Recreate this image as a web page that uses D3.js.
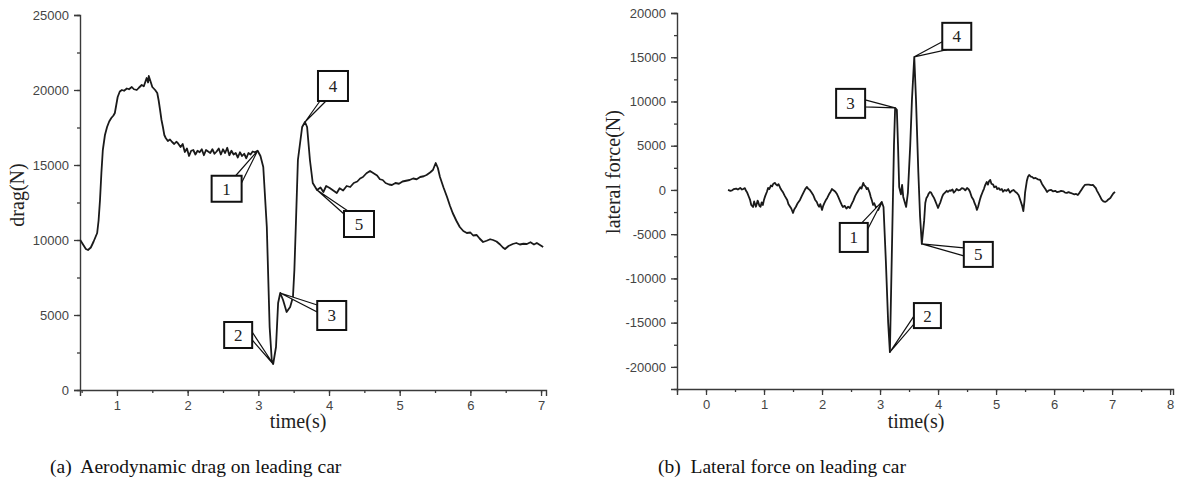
<!DOCTYPE html>
<html>
<head>
<meta charset="utf-8">
<script src="https://cdn.jsdelivr.net/npm/d3@7"></script>
<style>
  body { margin: 0; background: #fff; }
  svg { display: block; }
</style>
</head>
<body>
<div id="graph"></div>
<script>
// drag on leading car
var dragT = [0.48, 0.52, 0.56, 0.59, 0.63, 0.67, 0.72, 0.74, 0.76, 0.78, 0.80, 0.83, 0.86, 0.89, 0.92, 0.95, 0.97, 0.99,
  1.01, 1.04, 1.07, 1.10, 1.14, 1.17, 1.21, 1.24, 1.28, 1.31, 1.35, 1.38, 1.42, 1.44, 1.45, 1.48, 1.50, 1.54, 1.57, 1.59,
  1.61, 1.63, 1.65, 1.67, 1.69, 1.72, 1.75, 1.78, 1.81, 1.84, 1.86, 1.90, 1.93, 1.96, 1.99, 2.02, 2.05, 2.08, 2.11, 2.14,
  2.17, 2.20, 2.23, 2.26, 2.29, 2.32, 2.35, 2.38, 2.41, 2.44, 2.47, 2.50, 2.53, 2.56, 2.59, 2.62, 2.65, 2.68, 2.71, 2.74,
  2.77, 2.80, 2.83, 2.86, 2.89, 2.92, 2.95, 2.99, 3.03, 3.07, 3.12, 3.16, 3.19, 3.21, 3.25, 3.28, 3.31, 3.35, 3.40, 3.45,
  3.49, 3.51, 3.53, 3.56, 3.62, 3.66, 3.69, 3.73, 3.77, 3.83, 3.88, 3.92, 3.96, 4.01, 4.06, 4.11, 4.15, 4.20, 4.25, 4.30,
  4.35, 4.40, 4.44, 4.48, 4.53, 4.58, 4.63, 4.68, 4.72, 4.76, 4.80, 4.85, 4.89, 4.94, 4.99, 5.04, 5.09, 5.14, 5.19, 5.24,
  5.29, 5.34, 5.38, 5.43, 5.47, 5.51, 5.54, 5.57, 5.62, 5.67, 5.71, 5.75, 5.80, 5.85, 5.90, 5.95, 6.00, 6.04, 6.09, 6.13,
  6.18, 6.23, 6.28, 6.32, 6.37, 6.42, 6.46, 6.49, 6.54, 6.60, 6.65, 6.70, 6.75, 6.80, 6.85, 6.90, 6.94, 6.99, 7.03];
var dragN = [10000, 9700, 9400, 9333, 9500, 9900, 10467, 11300, 12667, 14500, 16000, 17000, 17533, 17900, 18133, 18300, 18467, 19000,
  19533, 19900, 20000, 19950, 20100, 20050, 20200, 20050, 20000, 20150, 20333, 20250, 20800, 20500, 20933, 20500, 20200, 20000, 19800, 19300,
  18667, 18000, 17533, 17000, 16800, 16600, 16700, 16533, 16400, 16550, 16467, 16200, 16400, 15867, 16100, 15600, 15950, 16000, 15700, 15950,
  15850, 16050, 15650, 16000, 15900, 15800, 16050, 15750, 15900, 16100, 15700, 16050, 15800, 16150, 15650, 15950, 15700, 15800, 15500, 15850,
  15600, 15750, 15450, 15800, 15700, 15900, 15850, 15950, 15600, 14867, 10867, 4200, 2000, 1733, 2867, 5800, 6467, 6000, 5200, 5533,
  6200, 8000, 10867, 15333, 17533, 17867, 17533, 15333, 13800, 13333, 13500, 13200, 13600, 13467, 13300, 13133, 13450, 13300, 13600, 13533,
  13800, 13900, 14100, 14200, 14450, 14600, 14450, 14300, 14050, 14000, 13800, 13700, 13667, 13800, 13750, 13900, 13950, 14000, 14100, 14050,
  14200, 14250, 14333, 14500, 14667, 15133, 14800, 14200, 13500, 12867, 12300, 11800, 11300, 10867, 10600, 10467, 10500, 10300, 10333, 10100,
  9867, 9950, 10050, 10000, 9900, 9700, 9500, 9400, 9600, 9733, 9800, 9700, 9750, 9733, 9850, 9700, 9800, 9650, 9533];

// lateral force on leading car
var latT = [0.38, 0.42, 0.45, 0.48, 0.52, 0.55, 0.59, 0.62, 0.64, 0.67, 0.69, 0.71, 0.74, 0.76, 0.78, 0.81, 0.83, 0.84,
  0.86, 0.87, 0.89, 0.90, 0.92, 0.94, 0.96, 0.98, 1.00, 1.02, 1.05, 1.07, 1.09, 1.12, 1.14, 1.16, 1.19, 1.21, 1.23, 1.25,
  1.28, 1.30, 1.33, 1.36, 1.40, 1.42, 1.45, 1.47, 1.50, 1.52, 1.55, 1.58, 1.62, 1.65, 1.68, 1.71, 1.74, 1.76, 1.79, 1.82,
  1.85, 1.88, 1.91, 1.93, 1.95, 1.97, 2.00, 2.02, 2.04, 2.07, 2.09, 2.12, 2.14, 2.17, 2.19, 2.21, 2.23, 2.26, 2.28, 2.30,
  2.32, 2.34, 2.36, 2.39, 2.42, 2.45, 2.48, 2.51, 2.54, 2.57, 2.60, 2.63, 2.66, 2.68, 2.71, 2.73, 2.75, 2.77, 2.79, 2.82,
  2.84, 2.86, 2.88, 2.90, 2.93, 2.95, 2.97, 3.00, 3.03, 3.06, 3.10, 3.14, 3.17, 3.21, 3.24, 3.26, 3.29, 3.31, 3.33, 3.36,
  3.38, 3.40, 3.45, 3.48, 3.52, 3.55, 3.59, 3.62, 3.66, 3.69, 3.72, 3.74, 3.76, 3.78, 3.80, 3.82, 3.84, 3.86, 3.88, 3.90,
  3.93, 3.95, 3.98, 4.00, 4.02, 4.04, 4.07, 4.09, 4.12, 4.15, 4.17, 4.20, 4.22, 4.25, 4.27, 4.30, 4.32, 4.35, 4.38, 4.41,
  4.44, 4.47, 4.50, 4.53, 4.55, 4.58, 4.61, 4.63, 4.65, 4.67, 4.69, 4.72, 4.74, 4.77, 4.79, 4.81, 4.84, 4.86, 4.88, 4.90,
  4.92, 4.95, 4.97, 5.00, 5.02, 5.05, 5.07, 5.10, 5.12, 5.15, 5.18, 5.21, 5.24, 5.27, 5.30, 5.33, 5.36, 5.39, 5.42, 5.45,
  5.47, 5.49, 5.50, 5.53, 5.55, 5.57, 5.60, 5.62, 5.65, 5.68, 5.72, 5.76, 5.79, 5.82, 5.85, 5.88, 5.91, 5.95, 5.98, 6.02,
  6.05, 6.09, 6.12, 6.16, 6.19, 6.22, 6.25, 6.28, 6.31, 6.35, 6.38, 6.41, 6.44, 6.47, 6.50, 6.53, 6.57, 6.60, 6.64, 6.67,
  6.70, 6.72, 6.74, 6.76, 6.79, 6.82, 6.85, 6.88, 6.91, 6.93, 6.97, 7.00, 7.02, 7.05];
var latN = [0, -100, -50, 100, 150, 50, 226, 50, 100, 200, -100, -300, -800, -1131, -1700, -1923, -1300, -1500,
  -1900, -1700, -1200, -1357, -1800, -1900, -1400, -1697, -1100, -700, -200, 226, 100, 500, 400, 700, 792, 600, 500, 650,
  226, 0, -300, -700, -1131, -1600, -1900, -2100, -2602, -2200, -1900, -1500, -1131, -700, -300, 100, 339, 150, 0, -300,
  -600, -1100, -1357, -1700, -1900, -1600, -2262, -1800, -1500, -1100, -905, -500, -300, 100, 0, -100, -200, -500, -792, -1100,
  -1400, -1700, -1923, -1800, -2100, -1900, -2036, -1600, -1200, -700, -339, 0, 300, 150, 792, 500, 400, 100, 226, -300,
  -800, -1200, -1697, -1500, -2000, -1900, -2262, -1800, -1357, -1923, -8000, -15000, -18326, -5000, 5000, 9276, 9050, 5000, 339, -500,
  566, -792, -1923, -339, 5000, 10181, 15045, 10181, 2000, -3000, -6100, -4800, -3500, -1470, -900, -700, -400, -226, -300, -566,
  -900, -1200, -1700, -2036, -1700, -1400, -792, -500, -300, -100, -226, -50, -100, 50, -300, -100, 100, -50, 0, 200,
  150, -50, 226, 50, -200, -792, -1100, -1500, -1800, -2262, -1900, -1131, -700, -200, 100, 500, 905, 600, 1000, 1131,
  700, 600, 300, 400, 100, 200, 0, 100, -200, 0, -100, 100, -300, -100, 0, -200, -339, -600, -1200, -1800,
  -2400, -1200, -300, 1000, 1500, 1697, 1500, 1470, 1300, 1357, 1200, 1131, 700, 400, 100, -226, -50, 0, -150, -100,
  -250, -200, -100, -150, -300, -339, -250, -339, -400, -500, -450, -566, -300, 0, 300, 566, 600, 600, 550, 566,
  350, 200, -100, -339, -700, -1100, -1300, -1357, -1250, -1100, -905, -600, -400, -226];

// callouts: label, target time, target value
var dragMarks = ["1", "2", "3", "4", "5"];
var dragMarkT = [2.99, 3.21, 3.31, 3.66, 3.83];
var dragMarkN = [15950, 1733, 6467, 17867, 13333];
var latMarks = ["1", "2", "3", "4", "5"];
var latMarkT = [3.03, 3.17, 3.26, 3.59, 3.72];
var latMarkN = [-1357, -18326, 9276, 15045, -6100];

var dragTicks = [0, 5000, 10000, 15000, 20000, 25000];
var latTicks = [-20000, -15000, -10000, -5000, 0, 5000, 10000, 15000, 20000];

var W = 1178, H = 486;
var svg = d3.select("#graph").append("svg").attr("width", W).attr("height", H);
svg.append("rect").attr("width", W).attr("height", H).attr("fill", "#fff");

var sans = "'Liberation Sans', Arial, sans-serif";
var serif = "'Liberation Serif', 'Times New Roman', serif";
var axisCol = "#3a3a3a";
var fmt = function(d) { return String(d); };   // plain hyphen for negatives, like the source

function panel(o) {
  var x = d3.scaleLinear().domain(o.xd).range(o.xr);
  var y = d3.scaleLinear().domain(o.yd).range(o.yr);
  var g = svg.append("g");

  // minor ticks
  var xMinor = d3.range(Math.ceil(o.xd[0] * 2) / 2, o.xd[1] + 0.001, 0.5);
  var yMinor = d3.range(Math.ceil(o.yd[0] / 2500) * 2500, o.yd[1] + 1, 2500);

  g.append("g").attr("transform", "translate(0," + o.yr[0] + ")")
    .call(d3.axisBottom(x).tickValues(o.xTicks).tickSize(6).tickPadding(5).tickFormat(fmt));
  g.append("g").attr("transform", "translate(0," + o.yr[0] + ")")
    .call(d3.axisBottom(x).tickValues(xMinor).tickSize(3).tickFormat(""))
    .select(".domain").remove();
  g.append("g").attr("transform", "translate(" + o.xr[0] + ",0)")
    .call(d3.axisLeft(y).tickValues(o.yTicks).tickSize(6).tickPadding(5).tickFormat(fmt));
  g.append("g").attr("transform", "translate(" + o.xr[0] + ",0)")
    .call(d3.axisLeft(y).tickValues(yMinor).tickSize(3).tickFormat(""))
    .select(".domain").remove();

  g.selectAll(".domain").attr("stroke", axisCol).attr("stroke-width", 1.4);
  g.selectAll(".tick line").attr("stroke", axisCol).attr("stroke-width", 1.3);
  g.selectAll(".tick text").attr("fill", "#444").style("font-family", sans).style("font-size", "13px");

  var line = d3.line().x(function(d) { return x(d[0]); }).y(function(d) { return y(d[1]); });
  g.append("path")
    .datum(d3.zip(o.t, o.v))
    .attr("d", line)
    .attr("fill", "none")
    .attr("stroke", "#1a1a1a")
    .attr("stroke-width", 1.8)
    .attr("stroke-linejoin", "round");

  // callout boxes with wedge pointers
  o.marks.forEach(function(m, i) {
    var tx = x(o.mt[i]), ty = y(o.mv[i]);
    var b = o.boxes[i];
    var bx = tx + b[0], by = ty + b[1];
    g.append("path")
      .attr("d", "M" + (bx + b[4]) + "," + (by + b[5]) + "L" + tx + "," + ty + "L" + (bx + b[6]) + "," + (by + b[7]) + "Z")
      .attr("fill", "#fff").attr("stroke", "#111").attr("stroke-width", 1.2).attr("stroke-linejoin", "miter");
    g.append("rect")
      .attr("x", bx).attr("y", by).attr("width", b[2]).attr("height", b[3])
      .attr("fill", "#fff").attr("stroke", "#111").attr("stroke-width", 2);
    g.append("text")
      .attr("x", bx + b[2] / 2).attr("y", by + b[3] / 2 + 6)
      .attr("text-anchor", "middle")
      .style("font-family", serif).style("font-size", "17px").attr("fill", "#222")
      .text(m);
  });

  // axis titles
  g.append("text")
    .attr("x", o.xlab[0]).attr("y", o.xlab[1])
    .attr("text-anchor", "middle")
    .style("font-family", serif).style("font-size", "20px").attr("fill", "#222")
    .text("time(s)");
  g.append("text")
    .attr("transform", "translate(" + o.ylab[0] + "," + o.ylab[1] + ") rotate(-90)")
    .attr("text-anchor", "middle")
    .style("font-family", serif).style("font-size", "20px").attr("fill", "#222")
    .text(o.ytitle);
  g.append("text")
    .attr("x", o.cap[0]).attr("y", o.cap[1])
    .style("font-family", serif).style("font-size", "19.5px").attr("fill", "#111")
    .attr("xml:space", "preserve")
    .text(o.caption);
}

// box: [dx, dy, w, h, wedge base1 x, y, wedge base2 x, y] relative to target / box corner
panel({
  xd: [0.477, 7.07], xr: [80, 546],
  yd: [0, 25000], yr: [390, 15],
  xTicks: [1, 2, 3, 4, 5, 6, 7], yTicks: dragTicks,
  t: dragT, v: dragN,
  marks: dragMarks, mt: dragMarkT, mv: dragMarkN,
  boxes: [[-46, 25, 30, 26, 24, 0, 30, 7],
          [-49, -42, 28, 26, 28, 10, 28, 18],
          [37, 8, 29, 29, 0, 4, 0, 11],
          [13, -51, 30, 30, 2, 30, 8, 30],
          [27, 21, 30, 26, 0, 3, 4, 0]],
  xlab: [298, 428], ylab: [24, 195], ytitle: "drag(N)",
  cap: [50, 473], caption: "(a)  Aerodynamic drag on leading car"
});

panel({
  xd: [-0.5, 8.05], xr: [677, 1173],
  yd: [-22500, 20000], yr: [389, 13],
  xTicks: [0, 1, 2, 3, 4, 5, 6, 7, 8], yTicks: latTicks,
  t: latT, v: latN,
  marks: latMarks, mt: latMarkT, mv: latMarkN,
  boxes: [[-42, 21, 28, 29, 22, 0, 28, 6],
          [24, -49, 27, 25, 0, 13, 0, 21],
          [-59, -19, 29, 29, 29, 11, 29, 18],
          [28, -34, 29, 27, 0, 19, 4, 27],
          [42, -2, 29, 25, 0, 6, 0, 14]],
  xlab: [916, 428], ylab: [620, 172], ytitle: "lateral force(N)",
  cap: [658, 473], caption: "(b)  Lateral force on leading car"
});
</script>
</body>
</html>
